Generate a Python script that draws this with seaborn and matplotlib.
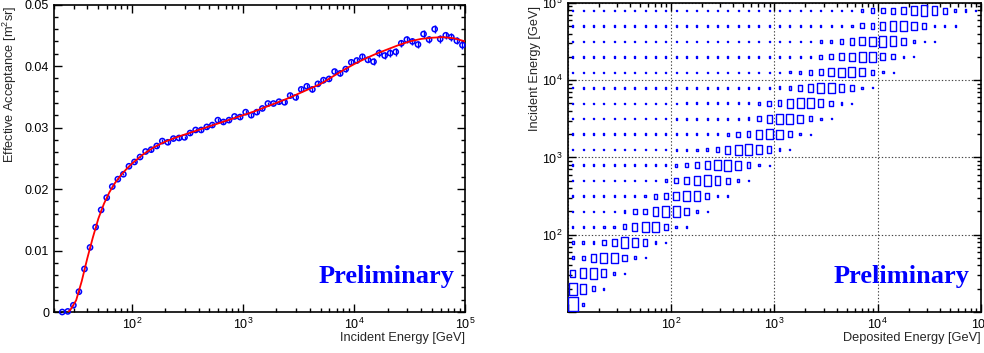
import numpy as np
import pandas as pd
import matplotlib
matplotlib.use('Agg')
import matplotlib.pyplot as plt
import seaborn as sns

# ---- left panel: effective acceptance vs incident energy (20 bins / decade)
acc_logE = np.arange(1.375, 5.0, 0.05)
acc = [0.0000, 0.0001, 0.0011, 0.0033, 0.0070, 0.0105, 0.0138, 0.0166, 0.0186, 0.0204,
       0.0216, 0.0224, 0.0237, 0.0244, 0.0252, 0.0261, 0.0264, 0.0270, 0.0278, 0.0276,
       0.0282, 0.0283, 0.0284, 0.0291, 0.0296, 0.0296, 0.0301, 0.0304, 0.0312, 0.0309,
       0.0312, 0.0318, 0.0317, 0.0325, 0.0320, 0.0325, 0.0331, 0.0339, 0.0339, 0.0342,
       0.0341, 0.0352, 0.0349, 0.0362, 0.0367, 0.0362, 0.0371, 0.0377, 0.0379, 0.0391,
       0.0388, 0.0395, 0.0406, 0.0409, 0.0415, 0.0410, 0.0407, 0.0421, 0.0417, 0.0421,
       0.0423, 0.0437, 0.0443, 0.0440, 0.0435, 0.0452, 0.0443, 0.0460, 0.0444, 0.0450,
       0.0447, 0.0441, 0.0434]
acc_err = [0.0002, 0.0002, 0.0002, 0.0002, 0.0002, 0.0002, 0.0002, 0.0002, 0.0002, 0.0002,
           0.0002, 0.0002, 0.0002, 0.0002, 0.0002, 0.0002, 0.0003, 0.0003, 0.0003, 0.0003,
           0.0003, 0.0003, 0.0003, 0.0003, 0.0003, 0.0003, 0.0003, 0.0003, 0.0003, 0.0003,
           0.0003, 0.0003, 0.0003, 0.0003, 0.0003, 0.0003, 0.0003, 0.0003, 0.0003, 0.0003,
           0.0003, 0.0004, 0.0004, 0.0004, 0.0004, 0.0004, 0.0004, 0.0004, 0.0004, 0.0004,
           0.0004, 0.0004, 0.0004, 0.0004, 0.0004, 0.0004, 0.0006, 0.0006, 0.0006, 0.0006,
           0.0006, 0.0006, 0.0006, 0.0006, 0.0006, 0.0006, 0.0006, 0.0006, 0.0006, 0.0006,
           0.0006, 0.0006, 0.0006]

# fitted curve
fit_logE = [1.43, 1.45, 1.50, 1.55, 1.60, 1.65, 1.70, 1.75, 1.80, 1.85, 1.90, 1.95, 2.00,
            2.10, 2.20, 2.30, 2.40, 2.50, 2.60, 2.70, 2.80, 2.90, 3.00, 3.10, 3.20, 3.30,
            3.40, 3.50, 3.60, 3.70, 3.80, 3.90, 4.00, 4.10, 4.20, 4.30, 4.40, 4.50, 4.60,
            4.70, 4.80, 4.90, 5.00]
fit_acc = [0.0000, 0.0004, 0.0019, 0.0050, 0.0087, 0.0121, 0.0152, 0.0176, 0.0195, 0.0210,
           0.0222, 0.0232, 0.0241, 0.0256, 0.0268, 0.0277, 0.0284, 0.0290, 0.0296, 0.0302,
           0.0308, 0.0314, 0.0320, 0.0326, 0.0333, 0.0340, 0.0347, 0.0355, 0.0363, 0.0371,
           0.0382, 0.0393, 0.0403, 0.0412, 0.0420, 0.0427, 0.0434, 0.0440, 0.0444, 0.0446,
           0.0447, 0.0445, 0.0440]

# ---- right panel: box sizes (% of bin) per incident-energy row (5 bins / decade),
# columns are deposited-energy bins (10 / decade) starting at 10 GeV
box_rows = [
    [100, 17],
    [87, 68, 35, 10],
    [50, 68, 78, 55, 20, 8],
    [20, 32, 52, 72, 72, 42, 20, 8],
    [17, 17, 20, 35, 52, 75, 68, 45, 17, 8],
    [12, 12, 12, 15, 20, 35, 55, 72, 68, 45, 17, 8],
    [11, 11, 11, 12, 12, 20, 35, 40, 60, 72, 70, 42, 17, 8],
    [10, 10, 10, 11, 11, 12, 12, 20, 35, 40, 60, 72, 65, 42, 17, 8],
    [10, 10, 10, 10, 11, 11, 11, 12, 12, 20, 35, 50, 65, 72, 60, 42, 17, 8],
    [10, 10, 10, 10, 10, 10, 11, 11, 12, 12, 20, 25, 38, 55, 68, 75, 62, 40, 17, 8],
    [10, 10, 10, 10, 10, 10, 10, 11, 11, 11, 12, 12, 15, 20, 38, 55, 70, 72, 62, 45, 17, 8],
    [10, 10, 10, 10, 10, 10, 10, 10, 10, 11, 11, 11, 12, 12, 12, 20, 35, 40, 60, 72, 65, 42,
     17, 8],
    [10, 10, 10, 10, 10, 10, 10, 10, 10, 10, 11, 11, 11, 11, 12, 12, 12, 20, 38, 55, 72, 70,
     55, 35, 17, 8],
    [10, 10, 10, 10, 10, 10, 10, 10, 10, 10, 10, 11, 11, 11, 11, 11, 12, 12, 17, 35, 40, 60,
     70, 72, 55, 38, 17, 8],
    [9, 10, 10, 10, 10, 10, 10, 10, 10, 10, 10, 10, 11, 11, 11, 11, 11, 12, 12, 12, 20, 25,
     38, 55, 70, 72, 60, 38, 17, 8],
    [9, 9, 10, 10, 10, 10, 10, 10, 10, 10, 10, 10, 10, 11, 11, 11, 11, 11, 12, 12, 12, 15,
     17, 35, 40, 55, 65, 70, 55, 35, 15, 8],
    [9, 9, 10, 10, 10, 10, 10, 10, 10, 10, 10, 10, 10, 10, 10, 11, 11, 11, 11, 11, 12, 12,
     12, 15, 30, 35, 50, 60, 72, 72, 50, 35, 17, 8],
    [9, 9, 9, 10, 10, 10, 10, 10, 10, 10, 10, 10, 10, 10, 10, 10, 11, 11, 11, 11, 11, 12,
     12, 12, 15, 20, 35, 45, 55, 65, 75, 70, 50, 20, 10, 7],
    [9, 9, 9, 10, 10, 10, 10, 10, 10, 10, 10, 10, 10, 10, 10, 10, 10, 11, 11, 11, 11, 11,
     12, 12, 12, 12, 15, 17, 35, 40, 55, 68, 72, 60, 40, 17, 12, 8],
    [9, 9, 9, 9, 10, 10, 10, 10, 10, 10, 10, 10, 10, 10, 10, 10, 10, 10, 10, 11, 11, 11,
     11, 11, 12, 12, 12, 12, 15, 30, 38, 42, 52, 68, 70, 60, 42, 20, 15, 8],
]

BLUE = '#0000ff'

sns.set_style('ticks')
plt.rcParams['font.family'] = ['Liberation Sans', 'DejaVu Sans']
plt.rcParams['mathtext.fontset'] = 'custom'
plt.rcParams['mathtext.rm'] = 'Liberation Sans'
plt.rcParams['mathtext.it'] = 'Liberation Sans:italic'
plt.rcParams['axes.linewidth'] = 1.2
plt.rcParams['axes.edgecolor'] = 'black'

fig = plt.figure(figsize=(9.84, 3.53), dpi=100)
ax1 = fig.add_axes([0.0549, 0.1161, 0.4179, 0.8711])
ax2 = fig.add_axes([0.5769, 0.1161, 0.4200, 0.8760])

# left panel
acc_df = pd.DataFrame({'E': 10 ** acc_logE, 'acc': acc, 'err': acc_err})
fit_df = pd.DataFrame({'E': 10 ** np.array(fit_logE), 'acc': fit_acc})
ax1.set_xscale('log')
ax1.errorbar(acc_df['E'], acc_df['acc'], yerr=acc_df['err'], fmt='none',
             ecolor=BLUE, elinewidth=1.0, capsize=0, zorder=2)
sns.scatterplot(data=acc_df, x='E', y='acc', ax=ax1, marker='o', s=14,
                facecolor='none', edgecolor=BLUE, linewidth=1.1, zorder=3, clip_on=False)
sns.lineplot(data=fit_df, x='E', y='acc', ax=ax1, color='red', linewidth=1.3, zorder=4)
ax1.set_xlim(20, 1e5)
ax1.set_ylim(0, 0.05)
ax1.set_yticks([0, 0.01, 0.02, 0.03, 0.04, 0.05])
ax1.set_yticklabels(['0', '0.01', '0.02', '0.03', '0.04', '0.05'])
ax1.yaxis.set_minor_locator(plt.MultipleLocator(0.002))
ax1.set_xlabel('Incident Energy [GeV]', loc='right', fontsize=9.2)
ax1.set_ylabel('Effective Acceptance [m$^{2}$sr]', loc='top', fontsize=9.2)
ax1.xaxis.set_label_coords(1.0, -0.065)
ax1.yaxis.set_label_coords(-0.085, 0.997)

# right panel: ROOT-style box histogram
recs = []
for r, row in enumerate(box_rows):
    for c, v in enumerate(row):
        recs.append({'dep': 10 ** (1.05 + 0.1 * c), 'inc': 10 ** (1.1 + 0.2 * r),
                     'area': (v / 100.0) ** 2})
box_df = pd.DataFrame(recs)
bin_h_pt = 15.46 * 0.72
ratio = 10.33 / 15.46
rect = np.array([[-ratio / 2, -0.5], [ratio / 2, -0.5], [ratio / 2, 0.5],
                 [-ratio / 2, 0.5], [-ratio / 2, -0.5]])
ax2.set_xscale('log')
ax2.set_yscale('log')
sns.scatterplot(data=box_df, x='dep', y='inc', size='area', sizes=(0, (bin_h_pt * 0.93) ** 2),
                size_norm=(0, 1), marker=rect, facecolor='none', edgecolor=BLUE,
                linewidth=1.0, legend=False, ax=ax2, zorder=3)
dec = [1e1, 1e2, 1e3, 1e4, 1e5]
dec_lab = ['', '$10^{2}$', '$10^{3}$', '$10^{4}$', '$10^{5}$']
ax2.set_xticks(dec)
ax2.set_xticklabels(dec_lab)
ax2.set_yticks(dec)
ax2.set_yticklabels(dec_lab)
ax2.grid(True, which='major', color='#444444', linestyle=(0, (1.2, 1.8)), linewidth=0.8)
ax2.set_xlabel('Deposited Energy [GeV]', loc='right', fontsize=9.2)
ax2.set_ylabel('Incident Energy [GeV]', loc='top', fontsize=9.2)
ax2.xaxis.set_label_coords(1.0, -0.065)
ax2.yaxis.set_label_coords(-0.065, 0.99)

for ax in (ax1, ax2):
    if ax is ax2:
        ax.set_xlim(10, 1e5)
        ax.set_ylim(10, 1e5)
    for axis in [ax.xaxis] + ([ax.yaxis] if ax is ax2 else []):
        axis.set_minor_locator(matplotlib.ticker.LogLocator(base=10, subs=np.arange(2, 10)))
        axis.set_minor_formatter(matplotlib.ticker.NullFormatter())
    ax.tick_params(which='both', direction='in', top=True, right=True, labelsize=9,
                   colors='black', width=1.0)
    ax.tick_params(which='major', length=5.5, pad=3.5)
    ax.tick_params(which='minor', length=2.8)
    for s in ax.spines.values():
        s.set_visible(True)
        s.set_color('black')
    ax.text(0.973, 0.094, 'Preliminary', transform=ax.transAxes, ha='right', va='baseline',
            color=BLUE, fontsize=19, fontweight='bold', family='Liberation Serif', zorder=5)

fig.savefig('out.png', dpi=100)
